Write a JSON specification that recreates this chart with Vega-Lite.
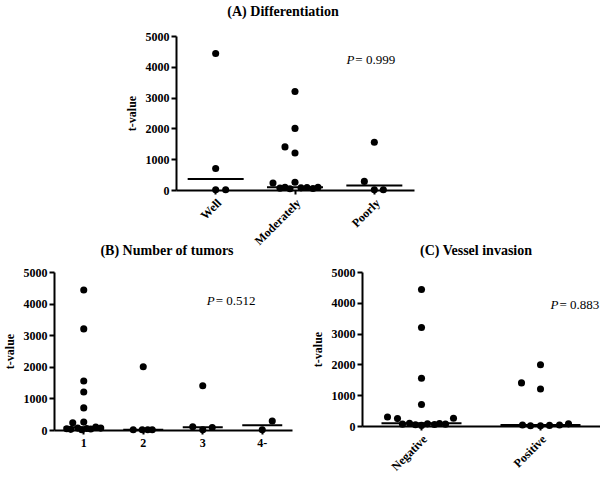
{
  "$schema": "https://vega.github.io/schema/vega-lite/v6.json",
  "padding": {"left": 3, "top": 5, "right": 0, "bottom": 0},
  "datasets": {
    "A": [
      {"group": "Well", "value": 4430, "jitter": 0},
      {"group": "Well", "value": 700, "jitter": 0},
      {"group": "Well", "value": 10, "jitter": 0},
      {"group": "Well", "value": 10, "jitter": 2},
      {"group": "Moderately", "value": 3200, "jitter": 0},
      {"group": "Moderately", "value": 2000, "jitter": 0},
      {"group": "Moderately", "value": 1400, "jitter": -2},
      {"group": "Moderately", "value": 1200, "jitter": 0},
      {"group": "Moderately", "value": 230, "jitter": -4.4},
      {"group": "Moderately", "value": 250, "jitter": 0},
      {"group": "Moderately", "value": 60, "jitter": -3},
      {"group": "Moderately", "value": 90, "jitter": -2},
      {"group": "Moderately", "value": 40, "jitter": -1},
      {"group": "Moderately", "value": 70, "jitter": 1.2},
      {"group": "Moderately", "value": 80, "jitter": 2.4},
      {"group": "Moderately", "value": 50, "jitter": 3.6},
      {"group": "Moderately", "value": 90, "jitter": 4.6},
      {"group": "Poorly", "value": 1550, "jitter": 0},
      {"group": "Poorly", "value": 280, "jitter": -2},
      {"group": "Poorly", "value": 10, "jitter": 0},
      {"group": "Poorly", "value": 10, "jitter": 1.8}
    ],
    "B": [
      {"group": "1", "value": 4430, "jitter": 0},
      {"group": "1", "value": 3200, "jitter": 0},
      {"group": "1", "value": 1550, "jitter": 0},
      {"group": "1", "value": 1200, "jitter": 0},
      {"group": "1", "value": 700, "jitter": 0},
      {"group": "1", "value": 230, "jitter": -2.2},
      {"group": "1", "value": 250, "jitter": 0},
      {"group": "1", "value": 40, "jitter": -3.4},
      {"group": "1", "value": 20, "jitter": -2.6},
      {"group": "1", "value": 60, "jitter": -1.2},
      {"group": "1", "value": 10, "jitter": -0.4},
      {"group": "1", "value": 50, "jitter": 0.6},
      {"group": "1", "value": 30, "jitter": 1.4},
      {"group": "1", "value": 90, "jitter": 2.4},
      {"group": "1", "value": 60, "jitter": 3.4},
      {"group": "2", "value": 2000, "jitter": 0},
      {"group": "2", "value": 10, "jitter": -2},
      {"group": "2", "value": 10, "jitter": -0.2},
      {"group": "2", "value": 10, "jitter": 0.9},
      {"group": "2", "value": 10, "jitter": 1.8},
      {"group": "3", "value": 1400, "jitter": 0},
      {"group": "3", "value": 100, "jitter": -2},
      {"group": "3", "value": 10, "jitter": 0},
      {"group": "3", "value": 80, "jitter": 1.9},
      {"group": "4-", "value": 285, "jitter": 2},
      {"group": "4-", "value": 10, "jitter": 0}
    ],
    "C": [
      {"group": "Negative", "value": 4430, "jitter": 0},
      {"group": "Negative", "value": 3200, "jitter": 0},
      {"group": "Negative", "value": 1550, "jitter": 0},
      {"group": "Negative", "value": 700, "jitter": 0},
      {"group": "Negative", "value": 290, "jitter": -6.8},
      {"group": "Negative", "value": 240, "jitter": -4.8},
      {"group": "Negative", "value": 250, "jitter": 6.4},
      {"group": "Negative", "value": 60, "jitter": -3.8},
      {"group": "Negative", "value": 90, "jitter": -2.4},
      {"group": "Negative", "value": 40, "jitter": -1.2},
      {"group": "Negative", "value": 20, "jitter": 0},
      {"group": "Negative", "value": 70, "jitter": 1.2},
      {"group": "Negative", "value": 50, "jitter": 2.6},
      {"group": "Negative", "value": 80, "jitter": 3.6},
      {"group": "Negative", "value": 60, "jitter": 4.8},
      {"group": "Positive", "value": 1990, "jitter": 0},
      {"group": "Positive", "value": 1400, "jitter": -3.8},
      {"group": "Positive", "value": 1200, "jitter": 0},
      {"group": "Positive", "value": 30, "jitter": -3.6},
      {"group": "Positive", "value": 10, "jitter": -2},
      {"group": "Positive", "value": 10, "jitter": 0},
      {"group": "Positive", "value": 20, "jitter": 1.8},
      {"group": "Positive", "value": 30, "jitter": 3.8},
      {"group": "Positive", "value": 70, "jitter": 5.6}
    ]
  },
  "spacing": -3,
  "resolve": {"scale": {"xOffset": "independent", "x": "independent", "y": "independent"}},
  "vconcat": [
    {
      "spacing": 0,
      "resolve": {"scale": {"xOffset": "independent", "x": "independent", "y": "independent"}},
      "hconcat": [
        {"width": 71, "height": 10, "data": {"values": []}, "mark": "point"},
        {
          "width": 238,
          "height": 154,
          "title": {"text": "(A) Differentiation", "dx": -12, "offset": 11},
          "layer": [
            {
              "data": {"name": "A"},
              "mark": {"type": "circle", "size": 50, "color": "black", "opacity": 1},
              "encoding": {
                "x": {"field": "group", "type": "nominal", "sort": ["Well", "Moderately", "Poorly"], "scale": {"paddingInner": 0, "paddingOuter": 0}, "axis": {"title": null, "labelAngle": -45, "tickSize": 4, "labelPadding": 3}},
                "xOffset": {"field": "jitter", "type": "quantitative", "scale": {"domain": [-7.93, 7.93], "nice": false, "zero": false}},
                "y": {"field": "value", "type": "quantitative", "scale": {"domain": [0, 5000], "nice": false}, "axis": {"title": "t-value", "values": [0, 1000, 2000, 3000, 4000, 5000], "format": "d", "tickSize": 5, "labelPadding": 2, "titlePadding": 7}}
              }
            },
            {
              "data": {"name": "A"},
              "mark": {"type": "tick", "color": "black", "thickness": 2, "size": 56},
              "encoding": {
                "x": {"field": "group", "type": "nominal", "sort": ["Well", "Moderately", "Poorly"], "scale": {"paddingInner": 0, "paddingOuter": 0}, "axis": {"title": null, "labelAngle": -45, "tickSize": 4, "labelPadding": 3}},
                "y": {"aggregate": "median", "field": "value", "type": "quantitative", "scale": {"domain": [0, 5000], "nice": false}, "axis": {"title": "t-value", "values": [0, 1000, 2000, 3000, 4000, 5000], "format": "d", "tickSize": 5, "labelPadding": 2, "titlePadding": 7}}
              }
            },
            {
              "data": {"values": [{"group": "Poorly", "value": 4220, "p": "P", "rest": "= 0.999"}]},
              "encoding": {
                "x": {"field": "group", "type": "nominal", "sort": ["Well", "Moderately", "Poorly"], "scale": {"paddingInner": 0, "paddingOuter": 0}, "axis": {"title": null, "labelAngle": -45, "tickSize": 4, "labelPadding": 3}},
                "y": {"field": "value", "type": "quantitative", "scale": {"domain": [0, 5000], "nice": false}, "axis": {"title": "t-value", "values": [0, 1000, 2000, 3000, 4000, 5000], "format": "d", "tickSize": 5, "labelPadding": 2, "titlePadding": 7}}
              },
              "layer": [
                {"mark": {"type": "text", "fontStyle": "italic", "fontSize": 13, "align": "right", "baseline": "middle", "dx": -20, "color": "black"}, "encoding": {"text": {"field": "p"}}},
                {"mark": {"type": "text", "fontSize": 13, "align": "left", "baseline": "middle", "dx": -19, "color": "black"}, "encoding": {"text": {"field": "rest"}}}
              ]
            }
          ]
        }
      ]
    },
    {
      "spacing": 0,
      "resolve": {"scale": {"xOffset": "independent", "x": "independent", "y": "independent"}},
      "hconcat": [
        {
          "width": 238,
          "height": 158,
          "title": {"text": "(B) Number of tumors", "dx": -6, "offset": 8},
          "layer": [
            {
              "data": {"name": "B"},
              "mark": {"type": "circle", "size": 50, "color": "black", "opacity": 1},
              "encoding": {
                "x": {"field": "group", "type": "nominal", "sort": ["1", "2", "3", "4-"], "scale": {"paddingInner": 0, "paddingOuter": 0}, "axis": {"title": null, "labelAngle": 0, "tickSize": 4, "labelPadding": 3}},
                "xOffset": {"field": "jitter", "type": "quantitative", "scale": {"domain": [-5.95, 5.95], "nice": false, "zero": false}},
                "y": {"field": "value", "type": "quantitative", "scale": {"domain": [0, 5000], "nice": false}, "axis": {"title": "t-value", "values": [0, 1000, 2000, 3000, 4000, 5000], "format": "d", "tickSize": 5, "labelPadding": 2, "titlePadding": 7}}
              }
            },
            {
              "data": {"name": "B"},
              "mark": {"type": "tick", "color": "black", "thickness": 2, "size": 40},
              "encoding": {
                "x": {"field": "group", "type": "nominal", "sort": ["1", "2", "3", "4-"], "scale": {"paddingInner": 0, "paddingOuter": 0}, "axis": {"title": null, "labelAngle": 0, "tickSize": 4, "labelPadding": 3}},
                "y": {"aggregate": "median", "field": "value", "type": "quantitative", "scale": {"domain": [0, 5000], "nice": false}, "axis": {"title": "t-value", "values": [0, 1000, 2000, 3000, 4000, 5000], "format": "d", "tickSize": 5, "labelPadding": 2, "titlePadding": 7}}
              }
            },
            {
              "data": {"values": [{"group": "3", "value": 4080, "p": "P", "rest": "= 0.512"}]},
              "encoding": {
                "x": {"field": "group", "type": "nominal", "sort": ["1", "2", "3", "4-"], "scale": {"paddingInner": 0, "paddingOuter": 0}, "axis": {"title": null, "labelAngle": 0, "tickSize": 4, "labelPadding": 3}},
                "y": {"field": "value", "type": "quantitative", "scale": {"domain": [0, 5000], "nice": false}, "axis": {"title": "t-value", "values": [0, 1000, 2000, 3000, 4000, 5000], "format": "d", "tickSize": 5, "labelPadding": 2, "titlePadding": 7}}
              },
              "layer": [
                {"mark": {"type": "text", "fontStyle": "italic", "fontSize": 13, "align": "right", "baseline": "middle", "dx": 12, "color": "black"}, "encoding": {"text": {"field": "p"}}},
                {"mark": {"type": "text", "fontSize": 13, "align": "left", "baseline": "middle", "dx": 13, "color": "black"}, "encoding": {"text": {"field": "rest"}}}
              ]
            }
          ]
        },
        {"width": 19, "height": 10, "data": {"values": []}, "mark": "point"},
        {
          "width": 238,
          "height": 154,
          "title": {"text": "(C) Vessel invasion", "dx": -5, "offset": 8},
          "layer": [
            {
              "data": {"name": "C"},
              "mark": {"type": "circle", "size": 50, "color": "black", "opacity": 1},
              "encoding": {
                "x": {"field": "group", "type": "nominal", "sort": ["Negative", "Positive"], "scale": {"paddingInner": 0, "paddingOuter": 0}, "axis": {"title": null, "labelAngle": -45, "tickSize": 4, "labelPadding": 3}},
                "xOffset": {"field": "jitter", "type": "quantitative", "scale": {"domain": [-11.9, 11.9], "nice": false, "zero": false}},
                "y": {"field": "value", "type": "quantitative", "scale": {"domain": [0, 5000], "nice": false}, "axis": {"title": "t-value", "values": [0, 1000, 2000, 3000, 4000, 5000], "format": "d", "tickSize": 5, "labelPadding": 2, "titlePadding": 7}}
              }
            },
            {
              "data": {"name": "C"},
              "mark": {"type": "tick", "color": "black", "thickness": 2, "size": 80},
              "encoding": {
                "x": {"field": "group", "type": "nominal", "sort": ["Negative", "Positive"], "scale": {"paddingInner": 0, "paddingOuter": 0}, "axis": {"title": null, "labelAngle": -45, "tickSize": 4, "labelPadding": 3}},
                "y": {"aggregate": "median", "field": "value", "type": "quantitative", "scale": {"domain": [0, 5000], "nice": false}, "axis": {"title": "t-value", "values": [0, 1000, 2000, 3000, 4000, 5000], "format": "d", "tickSize": 5, "labelPadding": 2, "titlePadding": 7}}
              }
            },
            {
              "data": {"values": [{"group": "Positive", "value": 3930, "p": "P", "rest": "= 0.883"}]},
              "encoding": {
                "x": {"field": "group", "type": "nominal", "sort": ["Negative", "Positive"], "scale": {"paddingInner": 0, "paddingOuter": 0}, "axis": {"title": null, "labelAngle": -45, "tickSize": 4, "labelPadding": 3}},
                "y": {"field": "value", "type": "quantitative", "scale": {"domain": [0, 5000], "nice": false}, "axis": {"title": "t-value", "values": [0, 1000, 2000, 3000, 4000, 5000], "format": "d", "tickSize": 5, "labelPadding": 2, "titlePadding": 7}}
              },
              "layer": [
                {"mark": {"type": "text", "fontStyle": "italic", "fontSize": 13, "align": "right", "baseline": "middle", "dx": 18, "color": "black"}, "encoding": {"text": {"field": "p"}}},
                {"mark": {"type": "text", "fontSize": 13, "align": "left", "baseline": "middle", "dx": 19, "color": "black"}, "encoding": {"text": {"field": "rest"}}}
              ]
            }
          ]
        }
      ]
    }
  ],
  "config": {
    "view": {"stroke": null},
    "font": "Liberation Serif",
    "text": {"font": "Liberation Serif"},
    "axis": {
      "grid": false,
      "domainColor": "black",
      "domainWidth": 2,
      "tickColor": "black",
      "tickWidth": 2,
      "labelFont": "Liberation Serif",
      "labelFontWeight": "bold",
      "labelFontSize": 12,
      "labelColor": "black",
      "titleFont": "Liberation Serif",
      "titleFontWeight": "bold",
      "titleFontSize": 12,
      "titleColor": "black"
    },
    "title": {"font": "Liberation Serif", "fontSize": 14, "fontWeight": "bold", "color": "black", "anchor": "middle"}
  }
}
